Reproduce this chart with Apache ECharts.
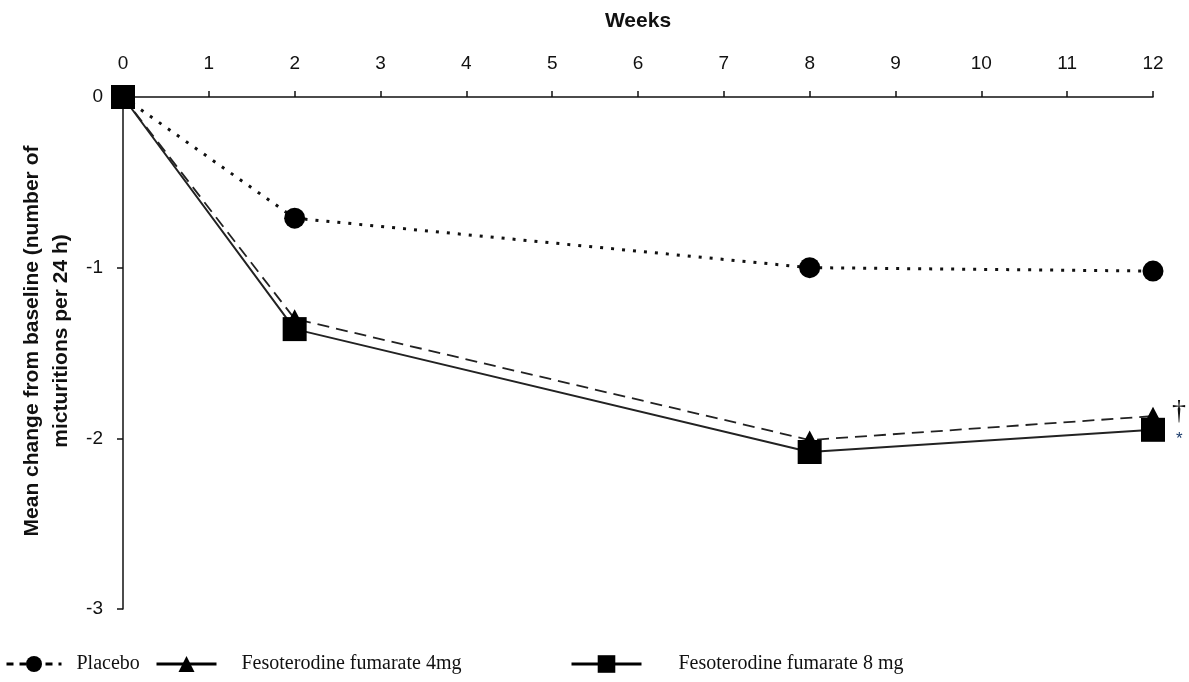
<!DOCTYPE html>
<html>
<head>
<meta charset="utf-8">
<script src="https://cdn.jsdelivr.net/npm/echarts@6/dist/echarts.min.js"></script>
<style>html,body{margin:0;padding:0;background:#fff}#c{width:1189px;height:682px}</style>
</head>
<body>
<div id="c"></div>
<script>
var weeks = [0, 2, 8, 12];
var placebo = [0, -0.71, -1.0, -1.02];
var fes4 = [0, -1.30, -2.01, -1.87];
var fes8 = [0, -1.36, -2.08, -1.95];
var xTicks = [0,1,2,3,4,5,6,7,8,9,10,11,12];
var seriesNames = ['Placebo', 'Fesoterodine fumarate 4mg', 'Fesoterodine fumarate 8 mg'];
var notes4 = ['', '', '', '\u2020'];
var notes8 = ['', '', '', '*'];

function pairs(ys) {
  return weeks.map(function (w, i) { return { value: [w, ys[i]] }; });
}

var chart = echarts.init(document.getElementById('c'));
var font = '"Liberation Sans", Arial, sans-serif';
var serif = '"Liberation Serif", "Times New Roman", serif';

var d4 = pairs(fes4);
d4.forEach(function (d, i) {
  if (notes4[i]) d.label = { show: true, formatter: notes4[i], position: 'right', offset: [4, -5], fontSize: 28, color: '#111', fontFamily: serif };
});
var d8 = pairs(fes8);
d8.forEach(function (d, i) {
  if (notes8[i]) d.label = { show: true, formatter: notes8[i], position: 'right', offset: [6, 10], fontSize: 17, color: '#1a3a6a', fontFamily: font };
});

var legText = { fontFamily: serif, fontSize: 20, color: '#111' };

chart.setOption({
  animation: false,
  backgroundColor: '#fff',
  grid: { left: 123, right: 36, top: 97, bottom: 73, containLabel: false, outerBoundsMode: 'none' },
  xAxis: {
    type: 'value', position: 'top', min: 0, max: 12, interval: 1,
    name: 'Weeks', nameLocation: 'middle', nameGap: 65,
    nameTextStyle: { fontFamily: font, fontWeight: 'bold', fontSize: 21, color: '#111' },
    axisLine: { show: true, onZero: false, lineStyle: { color: '#111', width: 1.5 } },
    axisTick: { show: true, inside: false, length: 6, lineStyle: { color: '#111', width: 1.5 } },
    axisLabel: { margin: 24, fontFamily: font, fontSize: 19, color: '#111',
      formatter: function (v) { return xTicks.indexOf(v) >= 0 ? String(v) : ''; } },
    splitLine: { show: false }
  },
  yAxis: {
    type: 'value', min: -3, max: 0, interval: 1,
    name: 'Mean change from baseline (number of\nmicturitions per 24 h)',
    nameLocation: 'middle', nameGap: 45, nameRotate: 90,
    nameTextStyle: { fontFamily: font, fontWeight: 'bold', fontSize: 21, color: '#111', lineHeight: 29, padding: [0, 0, 0, 24] },
    axisLine: { show: true, onZero: false, lineStyle: { color: '#111', width: 1.5 } },
    axisTick: { show: true, inside: false, length: 6, lineStyle: { color: '#111', width: 1.5 } },
    axisLabel: { margin: 20, fontFamily: font, fontSize: 19, color: '#111' },
    splitLine: { show: false }
  },
  legend: [
    { data: [{ name: seriesNames[0], lineStyle: { type: [7, 6], width: 3, color: '#000' } }],
      left: 5, top: 654, padding: 0, itemWidth: 55, itemHeight: 20, itemGap: 0,
      textStyle: Object.assign({ padding: [0, 0, 0, 10] }, legText) },
    { data: [{ name: seriesNames[1], lineStyle: { type: 'solid', width: 3, color: '#000' } }],
      left: 155, top: 654, padding: 0, itemWidth: 60, itemHeight: 20, itemGap: 0,
      textStyle: Object.assign({ padding: [0, 0, 0, 20] }, legText) },
    { data: [{ name: seriesNames[2], lineStyle: { type: 'solid', width: 3, color: '#000' } }],
      left: 570, top: 654, padding: 0, itemWidth: 70, itemHeight: 22, itemGap: 0,
      textStyle: Object.assign({ padding: [0, 0, 0, 32] }, legText) }
  ],
  series: [
    {
      name: seriesNames[0], type: 'line', data: pairs(placebo),
      symbol: 'circle', symbolSize: 21,
      itemStyle: { color: '#000' },
      lineStyle: { color: '#111', width: 3, type: [3, 8] },
      z: 2
    },
    {
      name: seriesNames[1], type: 'line', data: d4,
      symbol: 'triangle', symbolSize: [20, 19],
      itemStyle: { color: '#000' },
      lineStyle: { color: '#222', width: 1.8, type: [12, 7] },
      z: 3
    },
    {
      name: seriesNames[2], type: 'line', data: d8,
      symbol: 'rect', symbolSize: 24,
      itemStyle: { color: '#000' },
      lineStyle: { color: '#222', width: 2, type: 'solid' },
      z: 4
    }
  ]
});
</script>
</body>
</html>
